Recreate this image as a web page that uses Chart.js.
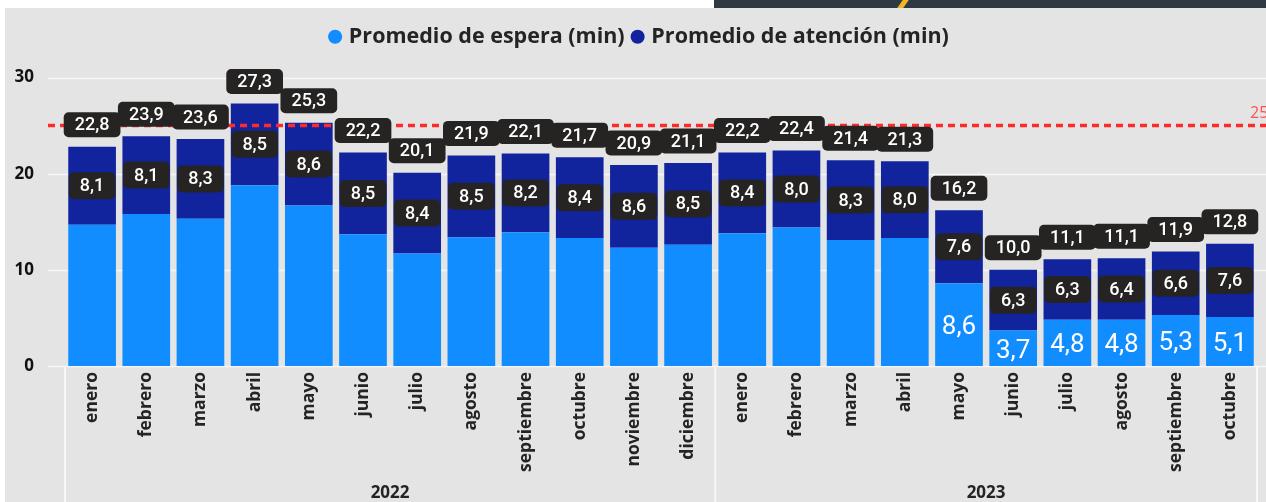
<!DOCTYPE html>
<html>
<head>
<meta charset="utf-8">
<script src="https://cdn.jsdelivr.net/npm/chart.js@4/dist/chart.umd.min.js"></script>
<style>
  body { margin: 0; background: #fff; width: 1266px; height: 502px; overflow: hidden; position: relative; }
  #panel { position: absolute; left: 5px; top: 8px; right: 0; bottom: 0; background: #e4e4e4; }
  #hdr { position: absolute; left: 714px; top: 0; width: 552px; height: 8px; background: #2f3944; overflow: hidden; }
  #hdr span { position: absolute; left: 186px; top: 0; width: 6px; height: 8px; background: #f2b71f; transform: skewX(-35deg); }
  #c { position: absolute; left: 0; top: 0; }
</style>
</head>
<body>
<div id="panel"></div>
<div id="hdr"><span></span></div>
<canvas id="c" width="1266" height="502"></canvas>
<script>
const months = ['enero', 'febrero', 'marzo', 'abril', 'mayo', 'junio', 'julio', 'agosto', 'septiembre', 'octubre', 'noviembre', 'diciembre',
                'enero', 'febrero', 'marzo', 'abril', 'mayo', 'junio', 'julio', 'agosto', 'septiembre', 'octubre'];
const years = ['2022', '2023'];
const monthsPerYear = [12, 10];

const espera   = [14.7, 15.8, 15.3, 18.8, 16.7, 13.7, 11.7, 13.4, 13.9, 13.3, 12.3, 12.6,
                  13.8, 14.4, 13.1, 13.3, 8.6, 3.7, 4.8, 4.8, 5.3, 5.1];
const atencion = [8.1, 8.1, 8.3, 8.5, 8.6, 8.5, 8.4, 8.5, 8.2, 8.4, 8.6, 8.5,
                  8.4, 8.0, 8.3, 8.0, 7.6, 6.3, 6.3, 6.4, 6.6, 7.6];
const totales  = [22.8, 23.9, 23.6, 27.3, 25.3, 22.2, 20.1, 21.9, 22.1, 21.7, 20.9, 21.1,
                  22.2, 22.4, 21.4, 21.3, 16.2, 10.0, 11.1, 11.1, 11.9, 12.8];
const yTicks = [0, 10, 20, 30];
const meta = 25;

const blue = '#118DFF';
const navy = '#12239E';
const dark = '#252423';

const fmt = v => v.toFixed(1).replace('.', ',');

function labelBox(ctx, text, x, y, h) {
  const w = ctx.measureText(text).width + 22;
  ctx.fillStyle = dark;
  ctx.beginPath();
  ctx.roundRect(x - w / 2, y - h / 2, w, h, 5);
  ctx.fill();
  ctx.fillStyle = '#fff';
  ctx.fillText(text, x, y + 1);
}

// gridlines + separators below the bars
const backPlugin = {
  id: 'back',
  beforeDatasetsDraw(chart) {
    const {ctx, chartArea, scales: {x, y}} = chart;
    ctx.save();
    ctx.strokeStyle = '#f6f6f6';
    ctx.lineWidth = 1.5;
    yTicks.forEach(t => {
      const py = Math.round(y.getPixelForValue(t)) + 0.5;
      ctx.beginPath();
      ctx.moveTo(48, py);
      ctx.lineTo(chart.width, py);
      ctx.stroke();
    });
    // year separators under the axis
    ctx.lineWidth = 2;
    let idx = 0;
    const edges = [x.left];
    monthsPerYear.forEach(n => {
      idx += n;
      edges.push(idx < months.length ? (x.getPixelForValue(idx - 1) + x.getPixelForValue(idx)) / 2 : x.right);
    });
    edges.forEach(px => {
      ctx.beginPath();
      ctx.moveTo(px, chartArea.bottom);
      ctx.lineTo(px, chart.height);
      ctx.stroke();
    });
    ctx.fillStyle = dark;
    ctx.font = 'bold 17px "Open Sans"';
    ctx.textAlign = 'center';
    ctx.textBaseline = 'alphabetic';
    years.forEach((yr, i) => {
      ctx.fillText(yr, (edges[i] + edges[i + 1]) / 2, 498);
    });
    ctx.restore();
  }
};

// constant line + data labels on top
const frontPlugin = {
  id: 'front',
  afterDatasetsDraw(chart) {
    const {ctx, scales: {y}} = chart;
    ctx.save();
    const py = y.getPixelForValue(meta);
    ctx.strokeStyle = '#ff2b2b';
    ctx.lineWidth = 3.5;
    ctx.setLineDash([7, 5]);
    ctx.beginPath();
    ctx.moveTo(48, py);
    ctx.lineTo(chart.width, py);
    ctx.stroke();
    ctx.setLineDash([]);
    ctx.fillStyle = '#ff5252';
    ctx.font = '16px "Open Sans"';
    ctx.textAlign = 'left';
    ctx.fillText(String(meta), 1250, py - 12);

    const barsE = chart.getDatasetMeta(0).data;
    const barsA = chart.getDatasetMeta(1).data;
    ctx.textAlign = 'center';
    ctx.textBaseline = 'middle';
    ctx.font = '500 18px Roboto';
    barsA.forEach((bar, i) => {
      labelBox(ctx, fmt(atencion[i]), bar.x, (bar.y + bar.base) / 2, 27);
      labelBox(ctx, fmt(totales[i]), bar.x, bar.y - 22, 25);
    });
    ctx.font = '26px Roboto';
    ctx.fillStyle = '#fff';
    barsE.forEach((bar, i) => {
      if (espera[i] < 10) ctx.fillText(fmt(espera[i]), bar.x, (bar.y + bar.base) / 2 + 3);
    });
    ctx.restore();
  }
};

// extra room between legend and plot, legend nudged right
const legendGap = {
  id: 'legendGap',
  beforeInit(chart) {
    const fit = chart.legend.fit;
    chart.legend.fit = function () {
      fit.call(this);
      this.height += 20;
    };
  },
  afterLayout(chart) {
    chart.legend.left += 12;
    chart.legend.right += 12;
  }
};

const waitData = {
  labels: months,
  datasets: [
    {
      label: 'Promedio de espera (min)',
      data: espera,
      backgroundColor: blue,
      borderWidth: 0
    },
    {
      label: 'Promedio de atención (min)',
      data: atencion,
      backgroundColor: navy,
      borderWidth: 0
    }
  ]
};

const waitConfig = {
  type: 'bar',
  data: waitData,
  options: {
    responsive: false,
    animation: false,
    layout: { padding: { top: 16, right: 9, left: 0, bottom: 0 } },
    datasets: { bar: { categoryPercentage: 1, barPercentage: 0.88 } },
    scales: {
      x: {
        stacked: true,
        grid: { display: false, drawTicks: false },
        border: { display: false },
        ticks: {
          autoSkip: false,
          minRotation: 90,
          maxRotation: 90,
          padding: 6,
          color: dark,
          font: { family: 'Open Sans', weight: 'bold', size: 17.5 }
        },
        afterFit: s => { s.height = 136; }
      },
      y: {
        stacked: true,
        min: 0,
        max: 30,
        grid: { display: false, drawTicks: false },
        border: { display: false },
        ticks: {
          stepSize: 10,
          padding: 31,
          color: '#111',
          font: { family: 'Open Sans', weight: 'bold', size: 17 }
        },
        afterFit: s => { s.width = 65; }
      }
    },
    plugins: {
      legend: {
        position: 'top',
        labels: {
          usePointStyle: true,
          pointStyle: 'circle',
          boxWidth: 6,
          boxHeight: 10,
          padding: 10,
          color: dark,
          font: { family: 'Open Sans', weight: 'bold', size: 21.5 }
        }
      },
      tooltip: { enabled: false }
    }
  },
  plugins: [legendGap, backPlugin, frontPlugin]
};

new Chart('c', waitConfig);
</script>
</body>
</html>
